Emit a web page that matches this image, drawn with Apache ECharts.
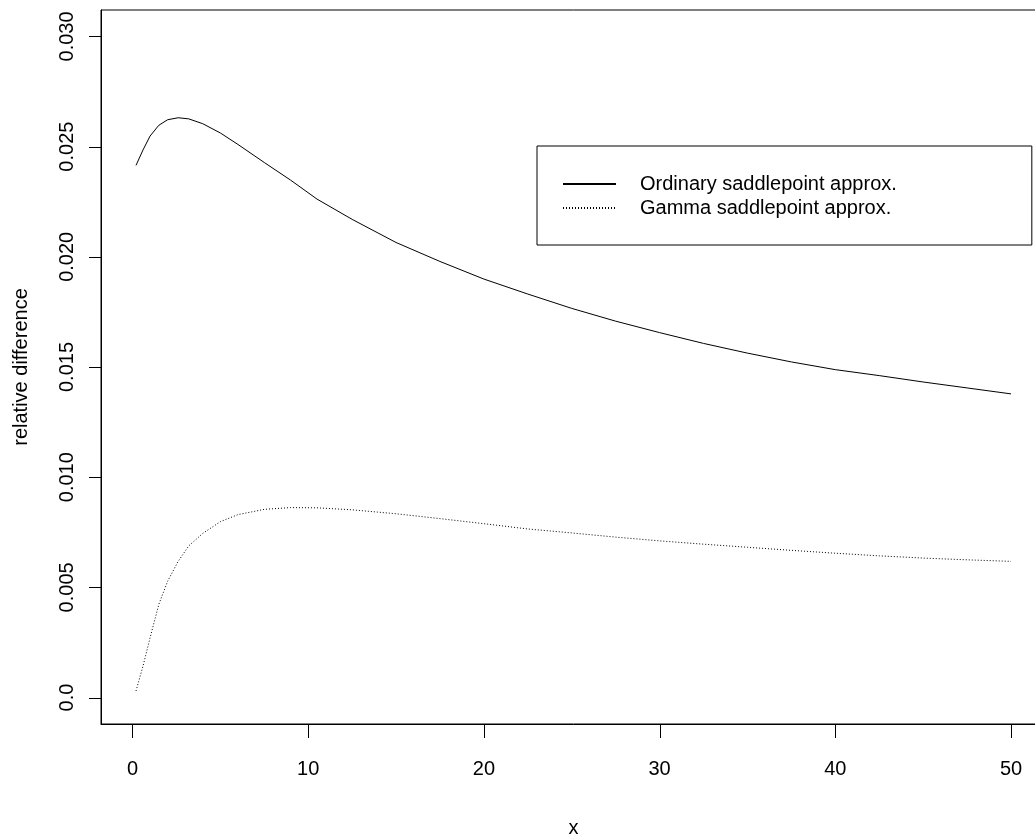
<!DOCTYPE html>
<html>
<head>
<meta charset="utf-8">
<script src="https://cdn.jsdelivr.net/npm/echarts@6/dist/echarts.min.js"></script>
<style>
  html, body { margin: 0; padding: 0; background: #fff; overflow: hidden; }
  #chart { width: 1100px; height: 838px; }
</style>
</head>
<body>
<div id="chart"></div>
<script>
// Grid of x values at which both approximations were evaluated
const xValues = [0.2, 0.6, 1.0, 1.5, 2.0, 2.6, 3.2, 4.0, 5.0, 6.0, 7.5, 9.0, 10.5, 12.5,
  15, 17.5, 20, 22.5, 25, 27.5, 30, 32.5, 35, 37.5, 40, 42.5, 45, 47.5, 50];

// Relative difference of the ordinary saddlepoint approximation
const ordinary = [0.02415, 0.02485, 0.02548, 0.02597, 0.02622, 0.02631, 0.02626, 0.02604,
  0.02562, 0.02510, 0.02428, 0.02348, 0.02262, 0.02170, 0.02065, 0.01979, 0.01899,
  0.01831, 0.01766, 0.01708, 0.01656, 0.01607, 0.01563, 0.01523, 0.01488, 0.01461,
  0.01432, 0.01405, 0.01378];

// Relative difference of the gamma-based saddlepoint approximation
const gamma = [0.0003, 0.00143, 0.00271, 0.00423, 0.00528, 0.00618, 0.00688, 0.00745,
  0.00798, 0.00830, 0.00854, 0.00862, 0.00861, 0.00852, 0.00834, 0.00812, 0.00789,
  0.00765, 0.00747, 0.00728, 0.00711, 0.00696, 0.00682, 0.00668, 0.00655, 0.00643,
  0.00633, 0.00625, 0.00618];

const xTicks = [0, 10, 20, 30, 40, 50];
const yTicks = [0, 0.005, 0.010, 0.015, 0.020, 0.025, 0.030];
const yTickLabels = ['0.0', '0.005', '0.010', '0.015', '0.020', '0.025', '0.030'];

const seriesNames = ['Ordinary saddlepoint approx.', 'Gamma saddlepoint approx.'];

// Axis extents: data range padded by 4% on each side
const X_MIN = -1.792, X_MAX = 51.992;
const Y_MIN = -0.0012, Y_MAX = 0.0312;

const FONT = '"Liberation Sans", Arial, Helvetica, sans-serif';

const zip = (xs, ys) => xs.map((x, i) => [x, ys[i]]);

const chart = echarts.init(document.getElementById('chart'), null, { renderer: 'canvas' });

chart.setOption({
  animation: false,
  backgroundColor: '#fff',
  textStyle: { fontFamily: FONT, color: '#000' },
  grid: {
    left: 101, top: 10, right: 54, bottom: 114,
    outerBoundsMode: 'none', containLabel: false,
    show: true, borderColor: '#000', borderWidth: 1, backgroundColor: 'transparent'
  },
  legend: {
    orient: 'vertical',
    left: 537, top: 146,
    padding: [28, 135, 27, 25],
    itemWidth: 53, itemHeight: 14, itemGap: 4,
    borderColor: '#000', borderWidth: 1,
    selectedMode: false,
    itemStyle: { opacity: 0, borderWidth: 0 },
    textStyle: { fontFamily: FONT, fontSize: 20, color: '#000', lineHeight: 20, padding: [0, 0, 0, 19] },
    data: seriesNames
  },
  xAxis: {
    type: 'value',
    min: X_MIN, max: X_MAX,
    name: 'x', nameLocation: 'middle', nameGap: 94,
    nameTextStyle: { fontFamily: FONT, fontSize: 20, color: '#000' },
    axisLine: { show: true, onZero: false, lineStyle: { color: '#000', width: 1 } },
    splitLine: { show: false },
    axisTick: { show: false },
    axisLabel: { show: true, margin: 35, fontSize: 20, color: '#000', fontFamily: FONT, customValues: xTicks }
  },
  yAxis: {
    type: 'value',
    min: Y_MIN, max: Y_MAX,
    name: 'relative difference', nameLocation: 'middle', nameGap: 70, nameRotate: 90,
    nameTextStyle: { fontFamily: FONT, fontSize: 20, color: '#000' },
    axisLine: { show: true, onZero: false, lineStyle: { color: '#000', width: 1 } },
    splitLine: { show: false },
    axisTick: { show: false },
    axisLabel: {
      show: true, margin: 24, rotate: 90, fontSize: 20, color: '#000', fontFamily: FONT,
      customValues: yTicks,
      formatter: (v) => {
        const i = yTicks.findIndex(t => Math.abs(t - v) < 1e-9);
        return i >= 0 ? yTickLabels[i] : '';
      }
    }
  },
  series: [
    {
      name: seriesNames[0], type: 'line', data: zip(xValues, ordinary),
      showSymbol: false, symbol: 'none', smooth: false,
      lineStyle: { color: '#000', width: 1, type: 'solid' },
      itemStyle: { color: '#000' }
    },
    {
      name: seriesNames[1], type: 'line', data: zip(xValues, gamma),
      showSymbol: false, symbol: 'none', smooth: false,
      lineStyle: { color: '#000', width: 1, type: [1, 2] },
      itemStyle: { color: '#000' }
    }
  ]
});

// Outward tick marks, placed through the series' own value-to-pixel conversion,
// on a separate layer so nothing on the base layer can hide them
const tickStyle = { stroke: '#000', lineWidth: 1 };
const toPx = (pt) => chart.convertToPixel({ seriesIndex: 0 }, pt);
const xTickMarks = xTicks.map(v => {
  const p = toPx([v, Y_MIN]);
  const x = Math.round(p[0]) + 0.5;
  return { type: 'line', silent: true, zlevel: 1, z: 100, shape: { x1: x, y1: p[1], x2: x, y2: p[1] + 14 }, style: tickStyle };
});
const yTickMarks = yTicks.map(v => {
  const p = toPx([X_MIN, v]);
  const y = Math.round(p[1]) + 0.5;
  return { type: 'line', silent: true, zlevel: 1, z: 100, shape: { x1: p[0] - 12, y1: y, x2: p[0], y2: y }, style: tickStyle };
});
chart.setOption({ graphic: { elements: xTickMarks.concat(yTickMarks) } });
</script>
</body>
</html>
